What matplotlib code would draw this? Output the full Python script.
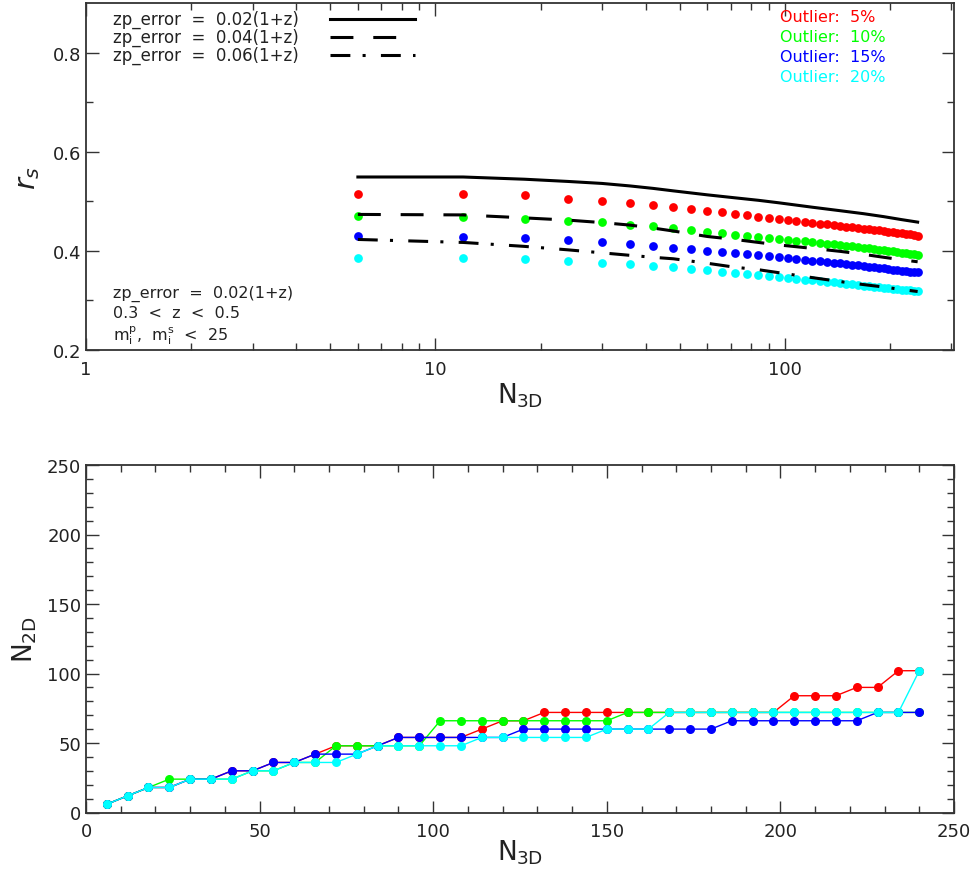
import numpy as np
import matplotlib
matplotlib.use("Agg")
import matplotlib.pyplot as plt
from matplotlib.ticker import FixedLocator, NullFormatter, LogLocator

plt.rcParams['font.family'] = ['DejaVu Sans']
plt.rcParams['mathtext.fontset'] = 'dejavusans'

# ---------------- data ----------------
n3d = [6, 12, 18, 24, 30, 36, 42, 48, 54, 60, 66, 72, 78, 84, 90, 96, 102, 108, 114, 120,
       126, 132, 138, 144, 150, 156, 162, 168, 174, 180, 186, 192, 198, 204, 210, 216, 222, 228, 234, 240]

outlier_labels = ['Outlier:  5%', 'Outlier:  10%', 'Outlier:  15%', 'Outlier:  20%']
outlier_colors = ['#ff0000', '#00ff00', '#0000ff', '#00ffff']

# r_s for each outlier fraction (top panel points)
rs_out5 = [0.514, 0.514, 0.512, 0.505, 0.501, 0.497, 0.493, 0.489, 0.4845, 0.4805,
           0.478, 0.4745, 0.472, 0.469, 0.4665, 0.4645, 0.4625, 0.4605, 0.4585, 0.457,
           0.455, 0.4535, 0.452, 0.4505, 0.449, 0.4475, 0.4462, 0.445, 0.4437, 0.4425,
           0.4412, 0.440, 0.4388, 0.4376, 0.4365, 0.4353, 0.434, 0.433, 0.4315, 0.430]
rs_out10 = [0.470, 0.468, 0.4644, 0.4604, 0.4577, 0.453, 0.4497, 0.4457, 0.4423, 0.439,
            0.4356, 0.4316, 0.4296, 0.4276, 0.4256, 0.4235, 0.4222, 0.4205, 0.419, 0.4175,
            0.416, 0.4145, 0.413, 0.4115, 0.410, 0.4088, 0.4075, 0.4062, 0.405, 0.4037,
            0.4025, 0.4012, 0.400, 0.3988, 0.3976, 0.3965, 0.3953, 0.3942, 0.3931, 0.392]
rs_out15 = [0.429, 0.4282, 0.425, 0.4215, 0.4169, 0.4129, 0.4095, 0.406, 0.4028, 0.4007,
            0.398, 0.3954, 0.3927, 0.3907, 0.3887, 0.3867, 0.3853, 0.3836, 0.382, 0.3805,
            0.379, 0.3775, 0.376, 0.3746, 0.3732, 0.3718, 0.3705, 0.3692, 0.368, 0.3668,
            0.3656, 0.3645, 0.3634, 0.3623, 0.3612, 0.3602, 0.3592, 0.3582, 0.3573, 0.3565]
rs_out20 = [0.385, 0.3853, 0.3826, 0.3793, 0.3759, 0.3726, 0.3699, 0.3665, 0.3632, 0.3605,
            0.3578, 0.3551, 0.3525, 0.3505, 0.3485, 0.3465, 0.345, 0.3435, 0.342, 0.3405,
            0.339, 0.3376, 0.3362, 0.3349, 0.3336, 0.3324, 0.3312, 0.33, 0.3289, 0.3278,
            0.3267, 0.3257, 0.3247, 0.3237, 0.3228, 0.3219, 0.321, 0.3202, 0.3194, 0.3186]

# reference curves (no outliers) for three photo-z errors
line_n3d = [6, 12, 18, 24, 30, 36, 42, 48, 60, 72, 84, 96, 120, 144, 168, 192, 216, 240]
rs_err002 = [0.549, 0.549, 0.5445, 0.540, 0.536, 0.531, 0.526, 0.521, 0.513, 0.507,
             0.502, 0.497, 0.488, 0.481, 0.475, 0.469, 0.463, 0.458]
rs_err004 = [0.4735, 0.4725, 0.4665, 0.462, 0.457, 0.452, 0.446, 0.440, 0.429, 0.423,
             0.417, 0.412, 0.405, 0.399, 0.393, 0.387, 0.382, 0.378]
rs_err006 = [0.423, 0.417, 0.409, 0.402, 0.396, 0.391, 0.387, 0.384, 0.375, 0.367,
             0.362, 0.356, 0.346, 0.338, 0.332, 0.327, 0.322, 0.318]
err_labels = ['zp_error  =  0.02(1+z)', 'zp_error  =  0.04(1+z)', 'zp_error  =  0.06(1+z)']

# N_2D vs N_3D (bottom panel)
n2d_out5 = [6, 12, 18, 18, 24, 24, 30, 30, 36, 36, 42, 48, 48, 48, 54, 54, 54, 54, 60, 66,
            66, 72, 72, 72, 72, 72, 72, 72, 72, 72, 72, 72, 72, 84, 84, 84, 90, 90, 102, 102]
n2d_out10 = [6, 12, 18, 24, 24, 24, 24, 30, 30, 36, 36, 48, 48, 48, 48, 48, 66, 66, 66, 66,
             66, 66, 66, 66, 66, 72, 72, 72, 72, 72, 72, 72, 72, 72, 72, 72, 72, 72, 72, 72]
n2d_out15 = [6, 12, 18, 18, 24, 24, 30, 30, 36, 36, 42, 42, 42, 48, 54, 54, 54, 54, 54, 54,
             60, 60, 60, 60, 60, 60, 60, 60, 60, 60, 66, 66, 66, 66, 66, 66, 66, 72, 72, 72]
n2d_out20 = [6, 12, 18, 18, 24, 24, 24, 30, 30, 36, 36, 36, 42, 48, 48, 48, 48, 48, 54, 54,
             54, 54, 54, 54, 60, 60, 60, 72, 72, 72, 72, 72, 72, 72, 72, 72, 72, 72, 72, 102]

info_lines = ['zp_error  =  0.02(1+z)', '0.3  <  z  <  0.5',
              r'm$_\mathregular{i}^\mathregular{p}$,  m$_\mathregular{i}^\mathregular{s}$  <  25']

# ---------------- figure ----------------
W, H = 974, 878
fig = plt.figure(figsize=(W / 100, H / 100), dpi=100)
txt = '#222222'
spine_c = '#333333'

def px_axes(l, t, r, b):
    return fig.add_axes([l / W, 1 - b / H, (r - l) / W, (b - t) / H])

ax1 = px_axes(86, 4, 954, 351)
ax2 = px_axes(86, 466, 954, 813.5)

for ax in (ax1, ax2):
    for s in ax.spines.values():
        s.set_color(spine_c)
        s.set_linewidth(1.3)
    ax.tick_params(which='both', direction='in', top=True, right=True, colors=spine_c,
                   labelcolor=txt, labelsize=13, width=1.0)
    ax.tick_params(which='major', length=9)
    ax.tick_params(which='minor', length=5)

# top panel
rs_sets = [rs_out5, rs_out10, rs_out15, rs_out20]
for vals, c in zip(rs_sets, outlier_colors):
    ax1.plot(n3d, vals, 'o', color=c, ms=6.3, mec='none', zorder=3)

lw = 2.2
styles = ['-', (0, (7.5, 6.5)), (0, (6.5, 4.0, 1.0, 5.0))]
for vals, ls in zip([rs_err002, rs_err004, rs_err006], styles):
    ax1.plot(line_n3d, vals, color='black', lw=lw, linestyle=ls, zorder=4)

ax1.set_xscale('log')
ax1.set_xlim(1, 305)
ax1.set_ylim(0.2, 0.9)
ax1.xaxis.set_major_locator(FixedLocator([1, 10, 100]))
ax1.xaxis.set_minor_locator(LogLocator(base=10, subs=np.arange(2, 10)))
ax1.xaxis.set_minor_formatter(NullFormatter())
ax1.set_xticklabels(['1', '10', '100'])
ax1.yaxis.set_major_locator(FixedLocator([0.2, 0.4, 0.6, 0.8]))
ax1.yaxis.set_minor_locator(FixedLocator([0.3, 0.5, 0.7]))
ax1.set_yticklabels(['0.2', '0.4', '0.6', '0.8'])
ax1.tick_params(axis='x', pad=7)
ax1.set_xlabel(r'N$_\mathregular{3D}$', fontsize=19, color=txt, labelpad=2)
ax1.set_ylabel(r'$r_s$', fontsize=21, color=txt, labelpad=8)

# legend (line styles)
for i, (lab, ls) in enumerate(zip(err_labels, styles)):
    y = 20 + 18 * i
    fig.text(113 / W, 1 - y / H, lab, fontsize=12, color=txt, va='center', ha='left')
    fig.add_artist(plt.Line2D([330 / W, 415 / W], [1 - y / H, 1 - y / H], color='black',
                              lw=lw, linestyle=ls, transform=fig.transFigure))

for i, (lab, c) in enumerate(zip(outlier_labels, outlier_colors)):
    y = 18 + 20 * i
    fig.text(780 / W, 1 - y / H, lab, fontsize=11.5, color=c, va='center', ha='left')

info_y = [294, 314, 336]
for y, lab in zip(info_y, info_lines):
    fig.text(113 / W, 1 - y / H, lab, fontsize=11.5, color=txt, va='center', ha='left')

# bottom panel
n2d_sets = [n2d_out5, n2d_out10, n2d_out15, n2d_out20]
for vals, c in zip(n2d_sets, outlier_colors):
    ax2.plot(n3d, vals, '-o', color=c, lw=1.0, ms=6.5, mec='none', zorder=3)

ax2.set_xlim(0, 250)
ax2.set_ylim(0, 250)
ax2.xaxis.set_major_locator(FixedLocator([0, 50, 100, 150, 200, 250]))
ax2.xaxis.set_minor_locator(FixedLocator(list(range(10, 250, 10))))
ax2.yaxis.set_major_locator(FixedLocator([0, 50, 100, 150, 200, 250]))
ax2.yaxis.set_minor_locator(FixedLocator(list(range(10, 250, 10))))
ax2.tick_params(axis='x', pad=7)
ax2.set_xlabel(r'N$_\mathregular{3D}$', fontsize=19, color=txt, labelpad=-2)
ax2.set_ylabel(r'N$_\mathregular{2D}$', fontsize=19, color=txt, labelpad=6)

fig.savefig('out.png', dpi=100)
